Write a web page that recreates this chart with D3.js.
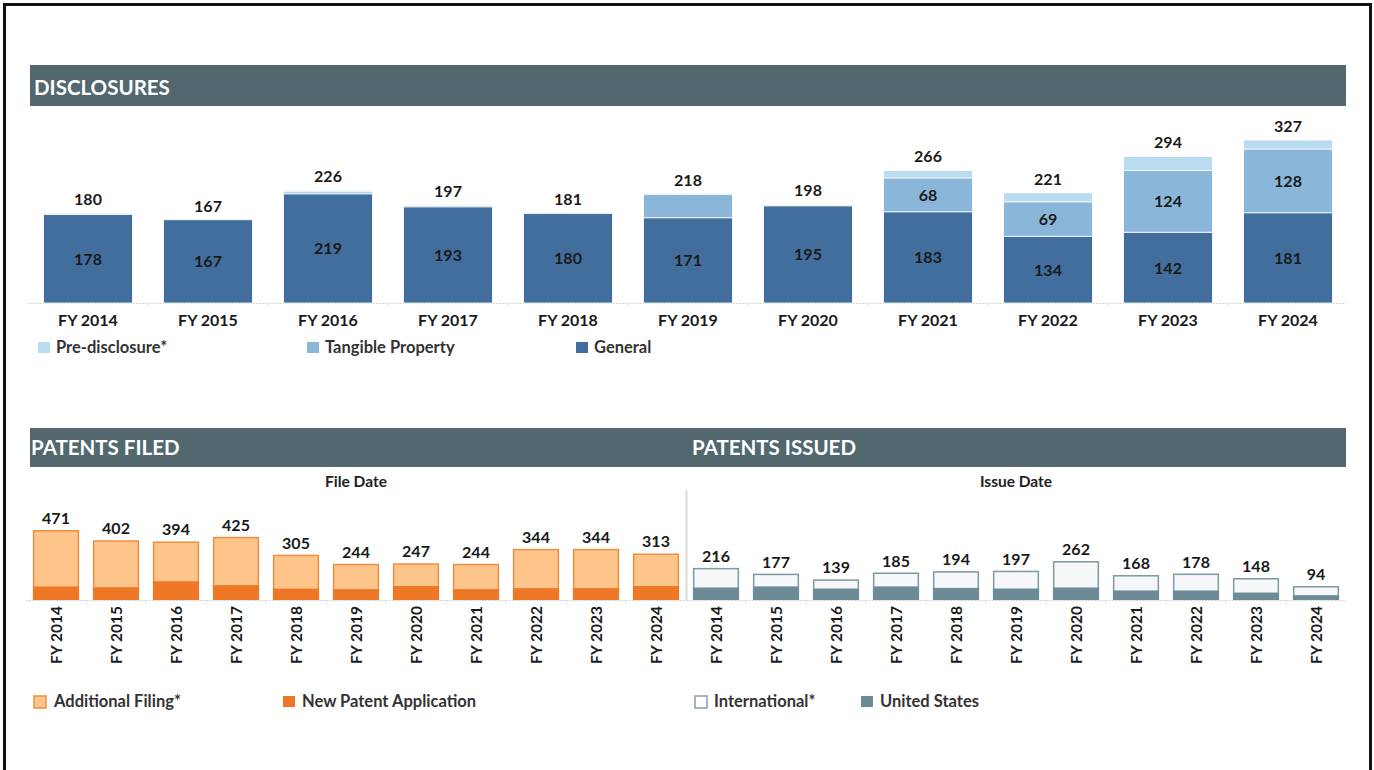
<!DOCTYPE html>
<html>
<head>
<meta charset="utf-8">
<script src="https://cdn.jsdelivr.net/npm/d3@7"></script>
<style>
  body { margin: 0; background: #fff; }
  svg { display: block; font-family: Lato, 'Open Sans', sans-serif; }
</style>
</head>
<body>
<div id="chart"></div>
<script>
// Fiscal years shared by all three panels
const years = ['FY 2014', 'FY 2015', 'FY 2016', 'FY 2017', 'FY 2018', 'FY 2019',
  'FY 2020', 'FY 2021', 'FY 2022', 'FY 2023', 'FY 2024'];

// Disclosures (stacked)
const discGeneral = [178, 167, 219, 193, 180, 171, 195, 183, 134, 142, 181];
const discTangible = [2, 0, 4, 3, 1, 47, 2, 68, 69, 124, 128];
const discPre = [0, 0, 3, 1, 0, 0, 1, 15, 18, 28, 18];
const discTotals = [180, 167, 226, 197, 181, 218, 198, 266, 221, 294, 327];
const tangibleLabels = [null, null, null, null, null, null, null, 68, 69, 124, 128];

// Patents filed (stacked)
const filedNew = [90, 85, 125, 99, 76, 72, 94, 72, 79, 79, 94];
const filedTotals = [471, 402, 394, 425, 305, 244, 247, 244, 344, 344, 313];

// Patents issued (stacked)
const issuedUS = [83, 90, 76, 90, 81, 76, 83, 63, 63, 49, 31];
const issuedTotals = [216, 177, 139, 185, 194, 197, 262, 168, 178, 148, 94];

const W = 1374, H = 770;
const headerColor = '#53676e';

const svg = d3.select('#chart').append('svg')
  .attr('width', W)
  .attr('height', H);

svg.append('rect').attr('width', W).attr('height', H).attr('fill', '#fff');

// page frame
svg.append('path')
  .attr('d', `M4.5,${H + 5}V4.5H1370.5V${H + 5}`)
  .attr('fill', 'none')
  .attr('stroke', '#111')
  .attr('stroke-width', 3);

function header(y, h, labels) {
  svg.append('rect')
    .attr('x', 30).attr('y', y)
    .attr('width', 1316).attr('height', h)
    .attr('fill', headerColor);
  labels.forEach(l => {
    svg.append('text')
      .attr('x', l.x).attr('y', l.y)
      .text(l.text)
      .style('font-size', '20.5px')
      .style('font-weight', 700)
      .style('fill', '#fff');
  });
}

function baseline(x0, x1, y, scale) {
  svg.append('line')
    .attr('x1', x0).attr('x2', x1)
    .attr('y1', y + 0.5).attr('y2', y + 0.5)
    .attr('stroke', '#d6d6d6')
    .attr('stroke-dasharray', '2,1');
  // faint ticks between bands
  scale.domain().slice(1).forEach(d => {
    const xt = scale(d) - scale.step() * scale.paddingInner() / 2;
    svg.append('line')
      .attr('x1', xt).attr('x2', xt)
      .attr('y1', y).attr('y2', y + 4)
      .attr('stroke', '#e2e2e2');
  });
}

function legend(items, y) {
  items.forEach(it => {
    svg.append('rect')
      .attr('x', it.x).attr('y', y - 11)
      .attr('width', 12).attr('height', it.stroke ? 12 : 11)
      .attr('fill', it.fill)
      .attr('stroke', it.stroke || 'none')
      .attr('stroke-width', it.stroke ? 1.5 : 0);
    svg.append('text')
      .attr('x', it.tx).attr('y', y)
      .text(it.text)
      .style('font-size', '16.5px')
      .style('font-weight', 700)
      .style('fill', '#333');
  });
}

// ---------------- DISCLOSURES ----------------
header(65, 41, [{ x: 34, y: 95, text: 'DISCLOSURES' }]);

const discColors = { general: '#416e9d', tangible: '#8ab6d9', pre: '#badcf0' };

const discRows = years.map((y, i) => ({
  year: y, general: discGeneral[i], tangible: discTangible[i], pre: discPre[i]
}));
const discStack = d3.stack().keys(['general', 'tangible', 'pre'])(discRows);

const xTop = d3.scaleBand()
  .domain(years)
  .range([28, 1348])
  .paddingInner(0.26)
  .paddingOuter(0.13);

const yTop = d3.scaleLinear()
  .domain([0, 330])
  .range([303, 138.5]);

baseline(28, 1346, 303, xTop);

const gTop = svg.append('g');
discStack.forEach(layer => {
  gTop.append('g')
    .selectAll('rect')
    .data(layer.filter(d => d[1] > d[0]))
    .join('rect')
    .attr('x', d => xTop(d.data.year))
    .attr('y', d => yTop(d[1]))
    .attr('width', xTop.bandwidth())
    .attr('height', d => yTop(d[0]) - yTop(d[1]))
    .attr('fill', discColors[layer.key])
    .attr('stroke', '#fff')
    .attr('stroke-width', 0.8);
});

const labelStyle = sel => sel
  .attr('text-anchor', 'middle')
  .style('font-size', '16px')
  .style('font-weight', 700)
  .style('fill', '#1a1a1a');

// totals
gTop.append('g').selectAll('text')
  .data(years)
  .join('text')
  .attr('x', d => xTop(d) + xTop.bandwidth() / 2)
  .attr('y', (d, i) => yTop(discTotals[i]) - 8)
  .text((d, i) => discTotals[i])
  .call(labelStyle);

// general values
gTop.append('g').selectAll('text')
  .data(years)
  .join('text')
  .attr('x', d => xTop(d) + xTop.bandwidth() / 2)
  .attr('y', (d, i) => (yTop(0) + yTop(discGeneral[i])) / 2 + 6)
  .text((d, i) => discGeneral[i])
  .call(labelStyle);

// tangible values
gTop.append('g').selectAll('text')
  .data(years.filter((d, i) => tangibleLabels[i] !== null))
  .join('text')
  .attr('x', d => xTop(d) + xTop.bandwidth() / 2)
  .attr('y', d => {
    const i = years.indexOf(d);
    return (yTop(discGeneral[i]) + yTop(discGeneral[i] + discTangible[i])) / 2 + 6;
  })
  .text(d => tangibleLabels[years.indexOf(d)])
  .call(labelStyle);

// x axis labels
gTop.append('g').selectAll('text')
  .data(years)
  .join('text')
  .attr('x', d => xTop(d) + xTop.bandwidth() / 2)
  .attr('y', 326)
  .text(d => d)
  .call(labelStyle);

legend([
  { x: 38, tx: 56, fill: discColors.pre, text: 'Pre-disclosure*' },
  { x: 307, tx: 325, fill: discColors.tangible, text: 'Tangible Property' },
  { x: 576, tx: 594, fill: discColors.general, text: 'General' }
], 353);

// ---------------- PATENTS ----------------
header(428, 39, [
  { x: 31, y: 455, text: 'PATENTS FILED' },
  { x: 692, y: 455, text: 'PATENTS ISSUED' }
]);

svg.append('line')
  .attr('x1', 686.5).attr('x2', 686.5)
  .attr('y1', 490).attr('y2', 600)
  .attr('stroke', '#d9d9d9')
  .attr('stroke-width', 2);

[{ x: 356, text: 'File Date' }, { x: 1016, text: 'Issue Date' }].forEach(t => {
  svg.append('text')
    .attr('x', t.x).attr('y', 487)
    .attr('text-anchor', 'middle')
    .text(t.text)
    .style('font-size', '15.5px')
    .style('font-weight', 700)
    .style('fill', '#222');
});

const yBot = d3.scaleLinear()
  .domain([0, 471])
  .range([600, 530]);

function patentPanel(range, base, totals, colors) {
  const x = d3.scaleBand()
    .domain(years)
    .range(range)
    .paddingInner(0.23)
    .paddingOuter(0.115);

  baseline(range[0], range[1], 600, x);

  const rows = years.map((y, i) => ({ year: y, base: base[i], extra: totals[i] - base[i] }));
  const stack = d3.stack().keys(['base', 'extra'])(rows);
  const g = svg.append('g');

  // outlined top segment
  g.append('g').selectAll('rect')
    .data(stack[1])
    .join('rect')
    .attr('x', d => x(d.data.year) + 0.75)
    .attr('y', d => yBot(d[1]) + 0.75)
    .attr('width', x.bandwidth() - 1.5)
    .attr('height', d => yBot(d[0]) - yBot(d[1]))
    .attr('fill', colors.extra)
    .attr('stroke', colors.stroke)
    .attr('stroke-width', 1.5);

  g.append('g').selectAll('rect')
    .data(stack[0])
    .join('rect')
    .attr('x', d => x(d.data.year))
    .attr('y', d => yBot(d[1]))
    .attr('width', x.bandwidth())
    .attr('height', d => yBot(d[0]) - yBot(d[1]))
    .attr('fill', colors.base);

  g.append('g').selectAll('text')
    .data(years)
    .join('text')
    .attr('x', d => x(d) + x.bandwidth() / 2)
    .attr('y', (d, i) => yBot(totals[i]) - 6)
    .text((d, i) => totals[i])
    .call(labelStyle);

  g.append('g').selectAll('text')
    .data(years)
    .join('text')
    .attr('transform', d => `translate(${x(d) + x.bandwidth() / 2},606) rotate(-90)`)
    .attr('dy', '0.36em')
    .attr('text-anchor', 'end')
    .text(d => d)
    .style('font-size', '15.5px')
    .style('font-weight', 700)
    .style('fill', '#1a1a1a');
}

const filedColors = { base: '#ee7726', extra: '#fdc58a', stroke: '#f08d40' };
const issuedColors = { base: '#6c8b97', extra: '#f5f7f9', stroke: '#7f98a2' };

patentPanel([26, 686], filedNew, filedTotals, filedColors);
patentPanel([686, 1346], issuedUS, issuedTotals, issuedColors);

legend([
  { x: 34, tx: 54, fill: filedColors.extra, stroke: filedColors.stroke, text: 'Additional Filing*' },
  { x: 283, tx: 302, fill: filedColors.base, text: 'New Patent Application' },
  { x: 695, tx: 714, fill: '#fff', stroke: '#8a9ea6', text: 'International*' },
  { x: 861, tx: 880, fill: issuedColors.base, text: 'United States' }
], 707);
</script>
</body>
</html>
